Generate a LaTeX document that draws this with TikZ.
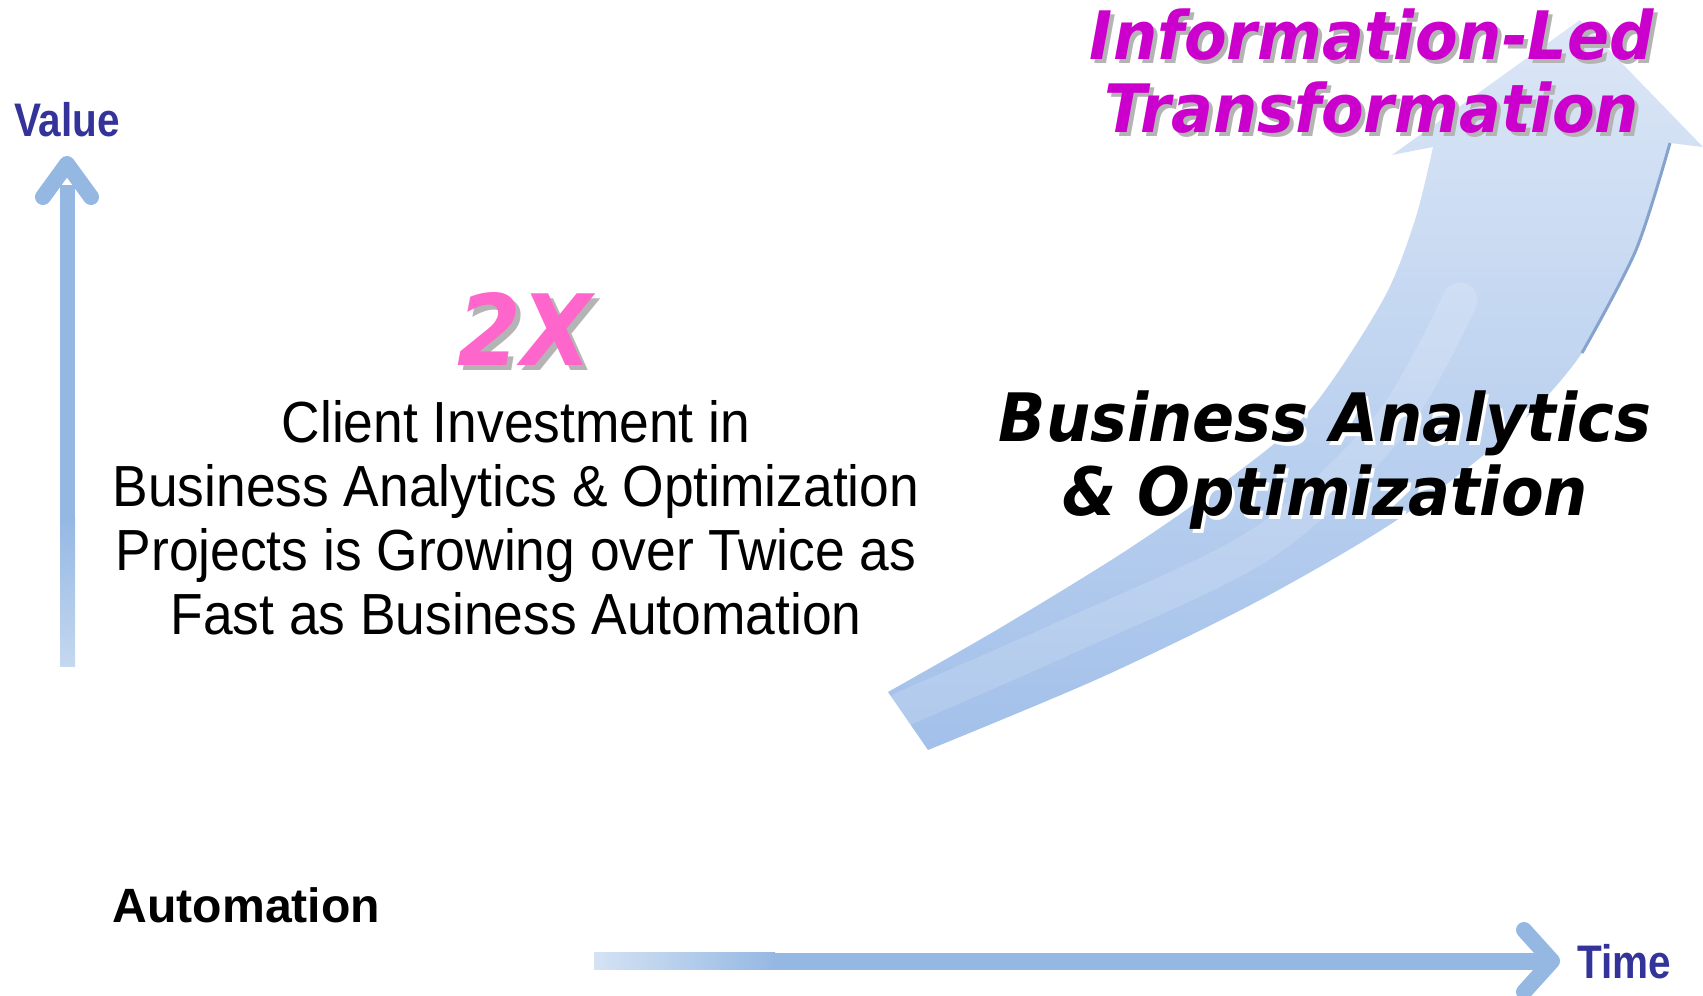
\documentclass[tikz,border=0pt]{standalone}
\usepackage{fontspec}
\setmainfont{Liberation Sans}
\newfontfamily\corpofont[FakeStretch=0.92]{Liberation Sans}
\newfontfamily\assefont[FakeStretch=0.86]{Liberation Sans}
\newfontfamily\titfont[FakeStretch=0.93]{DejaVu Sans}
\definecolor{assecol}{HTML}{95B8E3}
\definecolor{valcol}{HTML}{333399}
\definecolor{rosa}{HTML}{FF66CC}
\definecolor{viola}{HTML}{CC00CC}
\definecolor{ombra}{HTML}{B4B4B4}
\definecolor{frecciachiara}{HTML}{DCE7F6}
\definecolor{frecciascura}{HTML}{A2C0EA}
\definecolor{bordofreccia}{HTML}{86A3CE}

\begin{document}
\begin{tikzpicture}[x=0.1mm,y=-0.1mm,
  punta/.style={assecol,line width=1.6mm,line cap=round,line join=round},
  asselab/.style={font=\assefont\bfseries\fontsize{13.4}{16}\selectfont,text=valcol,inner sep=0pt},
  titolo/.style={font=\titfont\bfseries\itshape\fontsize{19}{21}\selectfont,align=center,inner sep=0pt}]
\useasboundingbox (0,0) rectangle (1703,996);

% --- Freccia curva ---
\shade[top color=frecciachiara,bottom color=frecciascura]
  plot[smooth] coordinates {(888,692) (1000,628) (1127,550) (1230,478) (1310,410) (1383,300) (1415,220) (1433,147)}
  -- (1392,155) -- (1580,20) -- (1703,147) -- (1670,143)
  -- plot[smooth] coordinates {(1670,143) (1636,250) (1582,353) (1513,430) (1400,518) (1260,600) (1100,678) (928,750)}
  -- cycle;
% riflesso chiaro
\draw[white,opacity=.15,line width=3.5mm,line cap=round]
  plot[smooth] coordinates {(905,708) (1060,640) (1260,545) (1390,425) (1460,300)};
% bordo scuro
\draw[bordofreccia,line width=.3mm] plot[smooth] coordinates {(1670,143) (1636,250) (1582,353)};

% --- Asse verticale: Value ---
\coordinate (v-base) at (67,667);
\coordinate (v-punta) at (67,164);
\fill[assecol] (60,185) rectangle (75,520);
\shade[top color=assecol,bottom color=assecol!55!white] (60,519) rectangle (v-base-|75,0);
\draw[punta] (43,197) -- (v-punta) -- (91,197);
\node[asselab,anchor=base] (valore) at (67,137) {Value};

% --- Asse orizzontale: Time ---
\coordinate (h-base) at (594,961);
\coordinate (h-punta) at (1552,961);
\shade[left color=assecol!40!white,right color=assecol] (594,953) rectangle (775,970);
\fill[assecol] (775,953) rectangle (1548,970);
\draw[punta] (1524,930) -- (h-punta) -- (1524,992);
\node[asselab,anchor=base west] (tempo) at (1577,979) {Time};

% Automation
\node[font=\bfseries\fontsize{13.7}{16}\selectfont,anchor=base west,inner sep=0pt] (autom) at (112,923) {Automation};

% --- 2X ---
\node[font=\titfont\bfseries\itshape\fontsize{28}{30}\selectfont,text=ombra,anchor=base,inner sep=0pt] (due-ombra) at (530,371) {2X};
\node[font=\titfont\bfseries\itshape\fontsize{28}{30}\selectfont,text=rosa,anchor=base,inner sep=0pt] (due) at (525,366) {2X};

% testo centrale
\node[font=\corpofont\fontsize{16.5}{18.2}\selectfont,align=center,inner sep=0pt] (testo) at (516,518)
  {Client Investment in\\Business Analytics \& Optimization\\Projects is Growing over Twice as\\Fast as Business Automation};

% --- Business Analytics & Optimization ---
\node[titolo,text=white] (bao-ombra) at (1328,464) {Business Analytics\\\& Optimization};
\node[titolo,text=black] (bao) at (1325,460) {Business Analytics\\\& Optimization};

% --- Information-Led Transformation ---
\node[titolo,text=ombra,font=\titfont\bfseries\itshape\fontsize{19}{20.8}\selectfont] (ilt-ombra) at (1376,75) {Information-Led\\Transformation};
\node[titolo,text=viola,font=\titfont\bfseries\itshape\fontsize{19}{20.8}\selectfont] (ilt) at (1372,71) {Information-Led\\Transformation};

\end{tikzpicture}
\end{document}
